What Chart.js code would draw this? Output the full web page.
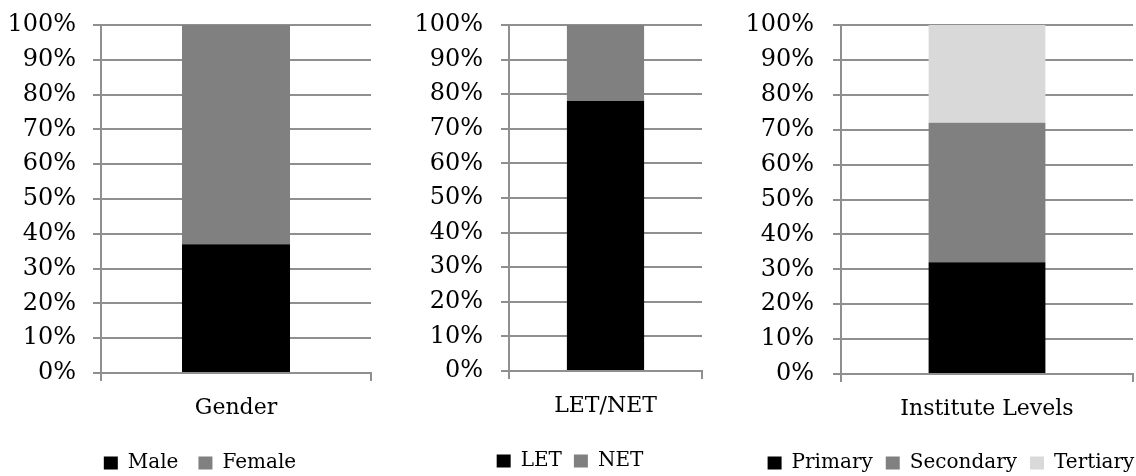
<!DOCTYPE html>
<html>
<head>
<meta charset="utf-8">
<script src="https://cdn.jsdelivr.net/npm/chart.js@4"></script>
<style>
  body { margin: 0; width: 1136px; height: 476px; overflow: hidden; background: #fff; position: relative; }
  canvas { position: absolute; top: 0; }
</style>
</head>
<body>
<canvas id="genderChart" width="380" height="483" style="left:0px"></canvas>
<canvas id="letChart" width="320" height="481" style="left:390px"></canvas>
<canvas id="levelChart" width="396" height="483" style="left:740px"></canvas>
<script>
// Data (percent of each group)
const genderLabels = ["Gender"];
const genderSeries = ["Male", "Female"];
const genderValues = [37, 63];

const letLabels = ["LET/NET"];
const letSeries = ["LET", "NET"];
const letValues = [78, 22];

const levelLabels = ["Institute Levels"];
const levelSeries = ["Primary", "Secondary", "Tertiary"];
const levelValues = [32, 40, 28];

const yMin = 0;
const yMax = 100;
const yStep = 10;

const barColors = ["#000000", "#808080", "#d9d9d9"];
const lineColor = "#8f8f8f";
const serif = "'DejaVu Serif', serif";

Chart.defaults.color = "#000";
Chart.defaults.font.family = serif;

// moves the legend sideways so it sits where the original one does
const legendShift = {
    id: "legendShift",
    afterLayout: function (chart, args, opts) {
        chart.legend.left += opts.dx;
        chart.legend.right += opts.dx;
    }
};

function makeChart(id, labels, series, values, pad) {
    const ctx = document.getElementById(id).getContext("2d");
    return new Chart(ctx, {
        type: "bar",
        data: {
            labels: labels,
            datasets: series.map(function (name, i) {
                return {
                    label: name,
                    data: [values[i]],
                    backgroundColor: barColors[i],
                    borderWidth: 0,
                    categoryPercentage: 1,
                    barPercentage: 0.4
                };
            })
        },
        plugins: [legendShift],
        options: {
            responsive: false,
            animation: false,
            layout: { padding: { left: 0, right: pad.right, top: 25, bottom: 0 } },
            plugins: {
                tooltip: { enabled: false },
                legendShift: { dx: pad.legendDx },
                legend: {
                    position: "bottom",
                    labels: { boxWidth: 14, boxHeight: 13, padding: pad.legendPad, font: { family: serif, size: 20 }, color: "#000" }
                }
            },
            scales: {
                x: {
                    stacked: true,
                    grid: { offset: true, drawOnChartArea: false, drawTicks: true, tickLength: 8, color: lineColor, lineWidth: 2 },
                    border: { color: lineColor, width: 2 },
                    ticks: { padding: 14, font: { family: serif, size: 22 }, color: "#000" },
                    afterFit: function (scale) { scale.height = pad.xHeight; }
                },
                y: {
                    stacked: true,
                    min: yMin,
                    max: yMax,
                    grid: { color: lineColor, lineWidth: 2, tickLength: 8 },
                    border: { color: lineColor, width: 2 },
                    ticks: {
                        stepSize: yStep,
                        padding: pad.tickPad,
                        font: { family: serif, size: 24 },
                        color: "#000",
                        callback: function (v) { return v + "%"; }
                    },
                    afterFit: function (scale) {
                        scale.width = pad.yWidth;
                        // the top label may stick out above the plot, as in the original
                        scale.paddingTop = 0;
                        scale.paddingBottom = 0;
                    }
                }
            }
        }
    });
}

makeChart("genderChart", genderLabels, genderSeries, genderValues,
    { right: 9, yWidth: 101, xHeight: 60, tickPad: 17, legendDx: 14.5, legendPad: 20 });
makeChart("letChart", letLabels, letSeries, letValues,
    { right: 8, yWidth: 119, xHeight: 68, tickPad: 18, legendDx: 24, legendPad: 12 });
makeChart("levelChart", levelLabels, levelSeries, levelValues,
    { right: 3, yWidth: 101, xHeight: 66, tickPad: 19, legendDx: 14.5, legendPad: 13 });
</script>
</body>
</html>
